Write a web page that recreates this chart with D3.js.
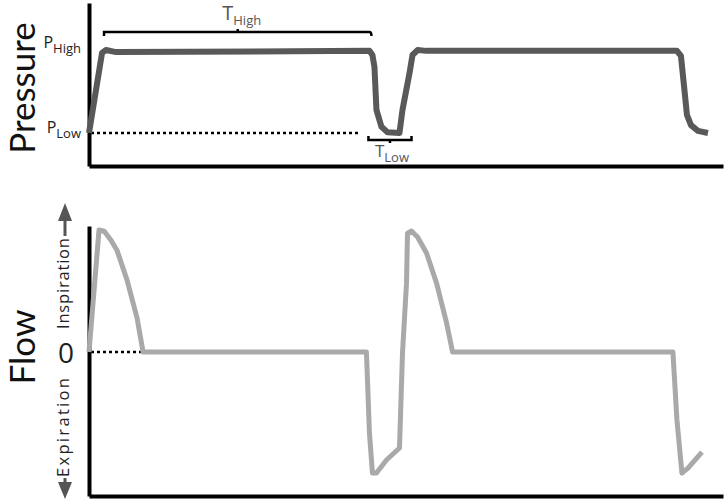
<!DOCTYPE html>
<html>
<head>
<meta charset="utf-8">
<script src="https://cdn.jsdelivr.net/npm/d3@7"></script>
<style>
  body { margin: 0; background: #fff; }
  svg { display: block; font-family: "Open Sans", Lato, sans-serif; }
  .axis path { stroke: #000; stroke-width: 4; }
  .axis .tick { display: none; }
  .title { font-family: Lato, "Open Sans", sans-serif; }
</style>
</head>
<body>
<div id="chart"></div>
<script>
// time in seconds, pressure in cmH2O, flow in L/min
var pLow = 8, pHigh = 28;

var pressureTime = [0, 0.13, 0.17, 0.27, 2.80, 2.83, 2.85, 2.87, 2.92, 2.98, 3.10,
  3.13, 3.20, 3.23, 3.28, 3.37, 5.87, 5.91, 5.94, 5.97, 6.01, 6.08, 6.18];
var pressureValue = [8, 27.4, 28.1, 27.6, 27.9, 26.9, 24, 13.6, 9.5, 8.2, 8,
  13.6, 22.5, 26.9, 28.1, 27.9, 27.9, 26.7, 19.6, 12.4, 9.9, 8.5, 8];

var flowTime = [0, 0.10, 0.15, 0.22, 0.28, 0.38, 0.48, 0.54, 2.77, 2.80, 2.83, 2.87,
  2.97, 3.10, 3.13, 3.17, 3.18, 3.22, 3.28, 3.37, 3.47, 3.57, 3.63, 5.83, 5.87,
  5.92, 5.98, 6.12];
var flowValue = [0, 60, 59.5, 55, 50, 35.4, 16.7, 0, 0, -39.8, -59.5, -59.5,
  -53.1, -47.2, -0.5, 33.9, 58.5, 59.5, 56.6, 48.7, 33.9, 14.3, 0, 0, -33.4,
  -59.5, -57.1, -49.2];

var tHigh = [0.15, 2.82];   // start / end of T High bracket
var tLow = [2.79, 3.22];    // start / end of T Low bracket
var zeroDotEnd = 0.52, pLowDotEnd = 2.71;

var width = 726, height = 502;

var x = d3.scaleLinear().domain([0, 6.33]).range([89, 723]);
var yP = d3.scaleLinear().domain([0, 39.5]).range([166, 3]);
var yF = d3.scaleLinear().domain([-70.8, 62]).range([496, 226]);

var svg = d3.select("#chart").append("svg")
    .attr("width", width)
    .attr("height", height);

var pressure = pressureTime.map(function(t, i) { return [t, pressureValue[i]]; });
var flow = flowTime.map(function(t, i) { return [t, flowValue[i]]; });

// axes (no ticks, only the heavy domain lines)
svg.append("g").attr("class", "axis")
    .attr("transform", "translate(0," + yP.range()[0] + ")")
    .call(d3.axisBottom(x).tickValues([]).tickSizeOuter(0));
svg.append("g").attr("class", "axis")
    .attr("transform", "translate(" + x.range()[0] + ",0)")
    .call(d3.axisLeft(yP).tickValues([]).tickSizeOuter(0));
svg.append("g").attr("class", "axis")
    .attr("transform", "translate(0," + yF.range()[0] + ")")
    .call(d3.axisBottom(x).tickValues([]).tickSizeOuter(0));
svg.append("g").attr("class", "axis")
    .attr("transform", "translate(" + x.range()[0] + ",0)")
    .call(d3.axisLeft(yF).tickValues([]).tickSizeOuter(0));

// dotted reference lines
svg.append("line")
    .attr("x1", x(0) + 2).attr("x2", x(pLowDotEnd))
    .attr("y1", yP(pLow)).attr("y2", yP(pLow))
    .style("stroke", "#000").style("stroke-width", 2.5)
    .style("stroke-dasharray", "3,3");
svg.append("line")
    .attr("x1", x(0) + 2).attr("x2", x(zeroDotEnd))
    .attr("y1", yF(0)).attr("y2", yF(0))
    .style("stroke", "#000").style("stroke-width", 2.5)
    .style("stroke-dasharray", "3,3");

var line = d3.line()
    .x(function(d) { return x(d[0]); });

svg.append("path")
    .datum(pressure)
    .attr("d", line.y(function(d) { return yP(d[1]); }))
    .style("fill", "none")
    .style("stroke", "#595959")
    .style("stroke-width", 6)
    .style("stroke-linejoin", "round");

svg.append("path")
    .datum(flow)
    .attr("d", line.y(function(d) { return yF(d[1]); }))
    .style("fill", "none")
    .style("stroke", "#a9a9a9")
    .style("stroke-width", 5)
    .style("stroke-linejoin", "round");

// T High bracket
var bhY = 32, bhX0 = x(tHigh[0]), bhX1 = x(tHigh[1]), bhMid = (bhX0 + bhX1) / 2;
svg.append("path")
    .attr("d", "M" + bhX0 + "," + (bhY + 4) + "V" + bhY + "H" + (bhX1 - 2) +
      "Q" + bhX1 + "," + bhY + " " + bhX1 + "," + (bhY + 4) +
      "M" + bhMid + "," + bhY + "V" + (bhY - 3))
    .style("fill", "none").style("stroke", "#000").style("stroke-width", 2.5);

// T Low bracket
var blY = 140, blX0 = x(tLow[0]), blX1 = x(tLow[1]), blMid = (blX0 + blX1) / 2;
svg.append("path")
    .attr("d", "M" + blX0 + "," + (blY - 4) + "V" + blY + "H" + blX1 + "V" + (blY - 4) +
      "M" + blMid + "," + blY + "V" + (blY + 3))
    .style("fill", "none").style("stroke", "#000").style("stroke-width", 2.5);

function subLabel(px, py, main, sub, color, mainSize, subSize, anchor) {
  var t = svg.append("text")
      .attr("x", px).attr("y", py)
      .attr("text-anchor", anchor)
      .style("fill", color);
  t.append("tspan").style("font-size", mainSize + "px").text(main);
  t.append("tspan").attr("dy", 5).style("font-size", subSize + "px").text(sub);
}

subLabel(bhMid + 4, 20, "T", "High", "#555", 20, 13, "middle");
subLabel(blMid + 2, 157, "T", "Low", "#555", 17, 13, "middle");
subLabel(81, 48, "P", "High", "#222", 16, 13, "end");
subLabel(81, yP(pLow), "P", "Low", "#222", 16, 13, "end");

// big rotated axis titles
svg.append("text").attr("class", "title")
    .attr("transform", "translate(35," + 88 + ") rotate(-90)")
    .attr("text-anchor", "middle")
    .style("font-size", "35px").style("fill", "#111")
    .text("Pressure");
svg.append("text").attr("class", "title")
    .attr("transform", "translate(35," + 347 + ") rotate(-90)")
    .attr("text-anchor", "middle")
    .style("font-size", "35px").style("fill", "#111")
    .text("Flow");

svg.append("text")
    .attr("x", 66).attr("y", yF(0) + 11)
    .attr("text-anchor", "middle")
    .style("font-size", "28px").style("fill", "#222")
    .text("0");

// Inspiration / Expiration with arrows
svg.append("text")
    .attr("transform", "translate(69,329) rotate(-90)")
    .attr("textLength", 91).attr("lengthAdjust", "spacing")
    .style("font-size", "16.5px").style("fill", "#222")
    .text("Inspiration");
svg.append("text")
    .attr("transform", "translate(69,477) rotate(-90)")
    .attr("textLength", 99).attr("lengthAdjust", "spacing")
    .style("font-size", "16.5px").style("fill", "#222")
    .text("Expiration");

var ax = 65;
svg.append("line")
    .attr("x1", ax).attr("x2", ax).attr("y1", 236).attr("y2", 218)
    .style("stroke", "#555").style("stroke-width", 3);
svg.append("path")
    .attr("d", "M" + ax + ",203L" + (ax + 7) + ",221L" + (ax - 7) + ",221Z")
    .style("fill", "#555");
svg.append("line")
    .attr("x1", ax).attr("x2", ax).attr("y1", 478).attr("y2", 486)
    .style("stroke", "#555").style("stroke-width", 3);
svg.append("path")
    .attr("d", "M" + ax + ",499L" + (ax + 7) + ",482L" + (ax - 7) + ",482Z")
    .style("fill", "#555");
</script>
</body>
</html>
